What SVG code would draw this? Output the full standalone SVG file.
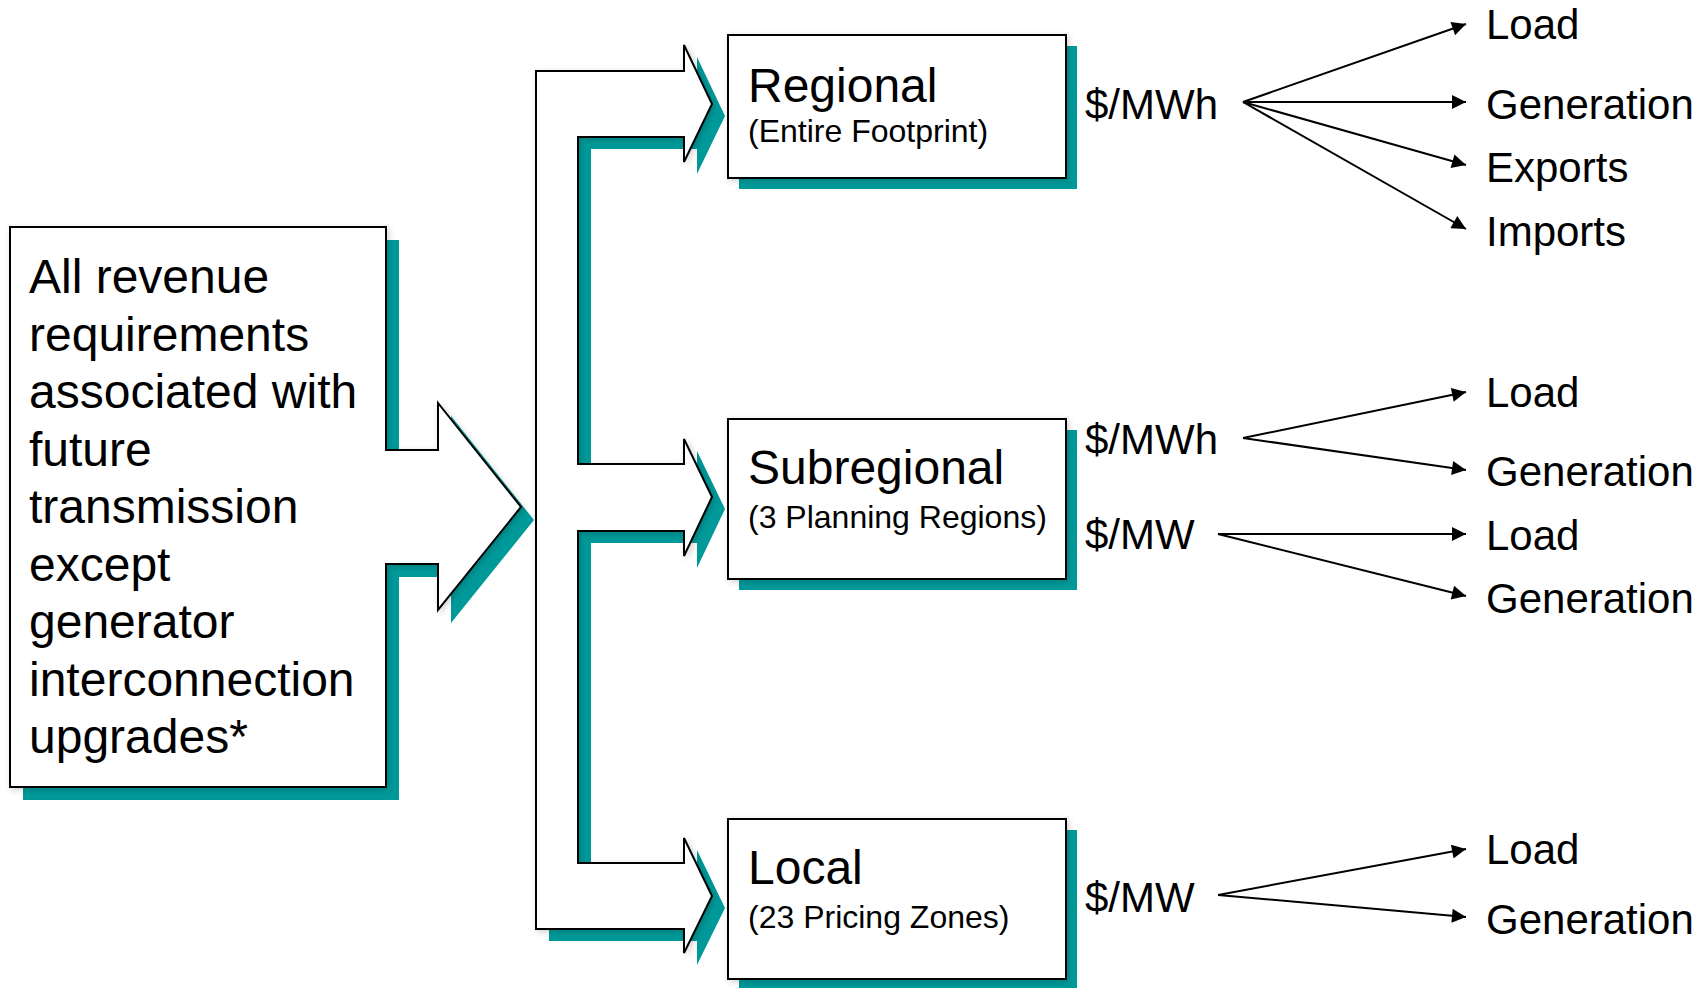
<svg xmlns="http://www.w3.org/2000/svg" width="1706" height="988" viewBox="0 0 1706 988">
<style>
.sh{fill:#009999;stroke:none}
.shape{fill:#ffffff;stroke:#000000;stroke-width:2;stroke-linejoin:miter}
.big{font-family:"Liberation Sans",Arial,sans-serif;font-size:48px;fill:#000}
.sub{font-family:"Liberation Sans",Arial,sans-serif;font-size:32px;fill:#000}
.lbl{font-family:"Liberation Sans",Arial,sans-serif;font-size:42px;fill:#000}
.fan{fill:none;stroke:#000;stroke-width:2;marker-end:url(#ah)}
</style>
<defs>
<marker id="ah" viewBox="0 0 10 10" refX="10" refY="5" markerWidth="9" markerHeight="7" orient="auto" markerUnits="strokeWidth">
<path d="M0,0 L10,5 L0,10 z" fill="#000"/>
</marker>
<filter id="soft" x="-10%" y="-10%" width="120%" height="120%">
<feDropShadow dx="2" dy="2" stdDeviation="3" flood-color="#000" flood-opacity="0.18"/>
</filter>
</defs>
<rect x="0" y="0" width="1706" height="988" fill="#ffffff"/>

<g id="connectors">
<g id="distribution-arrow">
<path class="sh" transform="translate(13,12)" d="M536,71 H684 V45 L712,104 L684,162 V137 H578 V464 H684 V439 L712,497 L684,556 V531 H578 V863 H684 V838 L712,896 L684,953 V929 H536 Z"/>
<path class="shape" filter="url(#soft)" d="M536,71 H684 V45 L712,104 L684,162 V137 H578 V464 H684 V439 L712,497 L684,556 V531 H578 V863 H684 V838 L712,896 L684,953 V929 H536 Z"/>
</g>
<g id="fan-regional">
<line class="fan" x1="1243" y1="102" x2="1466" y2="24"/>
<line class="fan" x1="1243" y1="102" x2="1466" y2="102"/>
<line class="fan" x1="1243" y1="102" x2="1466" y2="165"/>
<line class="fan" x1="1243" y1="102" x2="1466" y2="229"/>
</g>
<g id="fan-subregional">
<line class="fan" x1="1243" y1="438" x2="1466" y2="392"/>
<line class="fan" x1="1243" y1="438" x2="1466" y2="470"/>
<line class="fan" x1="1218" y1="534" x2="1466" y2="534"/>
<line class="fan" x1="1218" y1="534" x2="1466" y2="596"/>
</g>
<g id="fan-local">
<line class="fan" x1="1218" y1="895" x2="1466" y2="849"/>
<line class="fan" x1="1218" y1="895" x2="1466" y2="917"/>
</g>
</g>

<g id="source">
<path class="sh" transform="translate(13,13)" d="M10,227 H386 V450 H438 V403 L521,507 L438,610 V564 H386 V787 H10 Z"/>
<path class="shape" filter="url(#soft)" d="M10,227 H386 V450 H438 V403 L521,507 L438,610 V564 H386 V787 H10 Z"/>
<text class="big" x="29" y="293">All revenue</text>
<text class="big" x="29" y="351">requirements</text>
<text class="big" x="29" y="408">associated with</text>
<text class="big" x="29" y="466">future</text>
<text class="big" x="29" y="523">transmission</text>
<text class="big" x="29" y="581">except</text>
<text class="big" x="29" y="638">generator</text>
<text class="big" x="29" y="696">interconnection</text>
<text class="big" x="29" y="753">upgrades*</text>
</g>

<g id="regional">
<rect class="sh" x="739" y="46" width="338" height="143"/>
<rect class="shape" filter="url(#soft)" x="728" y="35" width="338" height="143"/>
<text class="big" x="748" y="102">Regional</text>
<text class="sub" x="748" y="142">(Entire Footprint)</text>
<text class="lbl" x="1085" y="119">$/MWh</text>
</g>

<g id="subregional">
<rect class="sh" x="739" y="430" width="338" height="160"/>
<rect class="shape" filter="url(#soft)" x="728" y="419" width="338" height="160"/>
<text class="big" x="748" y="484">Subregional</text>
<text class="sub" x="748" y="528">(3 Planning Regions)</text>
<text class="lbl" x="1085" y="454">$/MWh</text>
<text class="lbl" x="1085" y="549">$/MW</text>
</g>

<g id="local">
<rect class="sh" x="739" y="830" width="338" height="160"/>
<rect class="shape" filter="url(#soft)" x="728" y="819" width="338" height="160"/>
<text class="big" x="748" y="884">Local</text>
<text class="sub" x="748" y="928">(23 Pricing Zones)</text>
<text class="lbl" x="1085" y="912">$/MW</text>
</g>

<g id="targets-regional">
<text class="lbl" x="1486" y="39">Load</text>
<text class="lbl" x="1486" y="119">Generation</text>
<text class="lbl" x="1486" y="182">Exports</text>
<text class="lbl" x="1486" y="246">Imports</text>
</g>
<g id="targets-subregional">
<text class="lbl" x="1486" y="407">Load</text>
<text class="lbl" x="1486" y="486">Generation</text>
<text class="lbl" x="1486" y="550">Load</text>
<text class="lbl" x="1486" y="613">Generation</text>
</g>
<g id="targets-local">
<text class="lbl" x="1486" y="864">Load</text>
<text class="lbl" x="1486" y="934">Generation</text>
</g>
</svg>
